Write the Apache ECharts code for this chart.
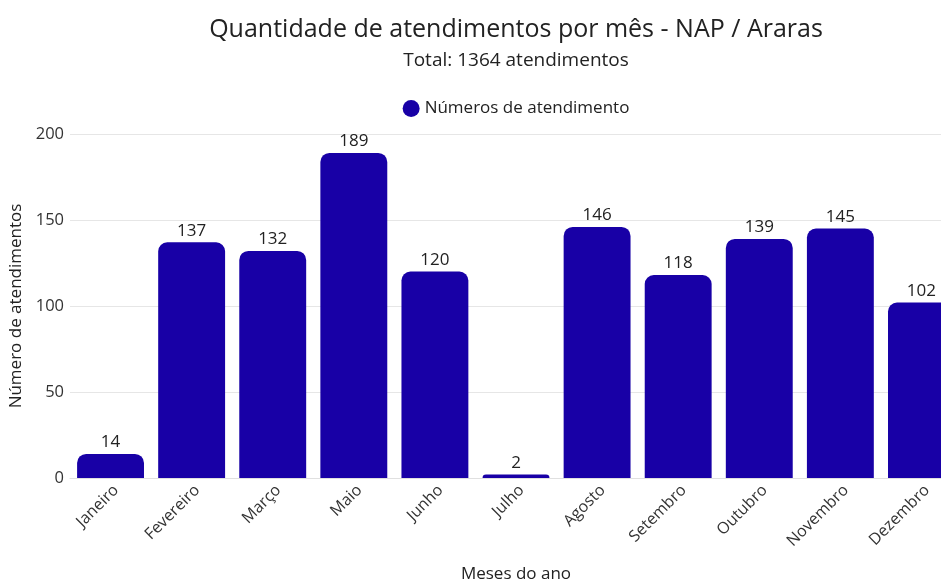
<!DOCTYPE html>
<html>
<head>
<meta charset="utf-8">
<script src="https://cdn.jsdelivr.net/npm/echarts@6/dist/echarts.min.js"></script>
<style>
  html, body { margin: 0; padding: 0; background: #fff; overflow: hidden; }
  #chart { width: 1032px; height: 582px; }
</style>
</head>
<body>
<div id="chart"></div>
<script>
const meses = ['Janeiro', 'Fevereiro', 'Março', 'Maio', 'Junho', 'Julho', 'Agosto', 'Setembro', 'Outubro', 'Novembro', 'Dezembro']
const atendimentos = [14, 137, 132, 189, 120, 2, 146, 118, 139, 145, 102]
const total = 1364

const chart = echarts.init(document.getElementById('chart'))
const font = 'Open Sans'

chart.setOption({
  textStyle: { fontFamily: font },
  title: {
    text: 'Quantidade de atendimentos por mês - NAP / Araras',
    subtext: 'Total: ' + total + ' atendimentos',
    left: 'center',
    top: 12,
    itemGap: 9,
    textStyle: { fontFamily: font, fontSize: 25, fontWeight: 'normal', color: '#222' },
    subtextStyle: { fontFamily: font, fontSize: 19, color: '#222' }
  },
  legend: {
    data: ['Números de atendimento'],
    top: 95,
    left: 'center',
    icon: 'circle',
    itemWidth: 17,
    itemHeight: 17,
    itemGap: 6,
    textStyle: { fontFamily: font, fontSize: 17, color: '#222' }
  },
  grid: {
    left: 70,
    right: 70,
    top: 134,
    bottom: 104,
    outerBoundsMode: 'none'
  },
  xAxis: {
    type: 'category',
    data: meses,
    name: 'Meses do ano',
    nameLocation: 'middle',
    nameGap: 88,
    nameTextStyle: { fontFamily: font, fontSize: 17, color: '#222' },
    axisLine: { lineStyle: { color: '#e0e0e0' } },
    axisTick: { show: false },
    axisLabel: {
      interval: 0,
      rotate: 45,
      margin: 4,
      verticalAlign: 'top',
      fontFamily: font,
      fontSize: 16,
      color: '#333'
    }
  },
  yAxis: {
    type: 'value',
    min: 0,
    max: 200,
    interval: 50,
    name: 'Número de atendimentos',
    nameLocation: 'middle',
    nameGap: 42,
    nameTextStyle: { fontFamily: font, fontSize: 17, color: '#222' },
    axisLabel: { fontFamily: font, fontSize: 16.5, color: '#333', margin: 6 },
    splitLine: { lineStyle: { color: '#e6e6e6' } }
  },
  series: [
    {
      name: 'Números de atendimento',
      type: 'bar',
      data: atendimentos,
      barCategoryGap: '17.5%',
      itemStyle: {
        color: '#1800a6',
        borderRadius: [9, 9, 0, 0]
      },
      label: {
        show: true,
        position: 'top',
        distance: 3,
        fontFamily: font,
        fontSize: 17,
        color: '#222'
      }
    }
  ]
})
</script>
</body>
</html>
